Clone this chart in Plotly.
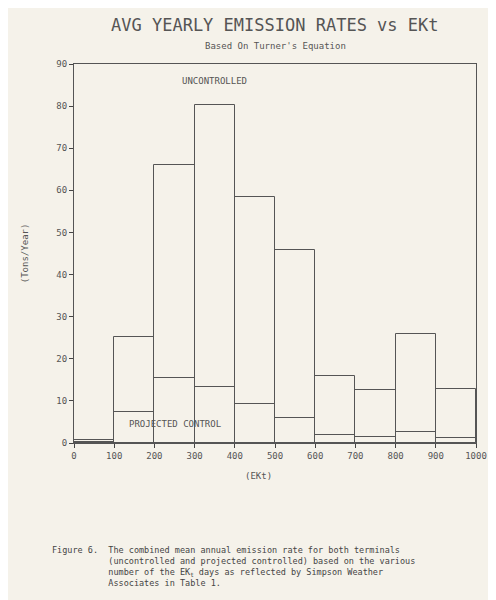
import plotly.graph_objects as go

# Data
ekt_mid = [50, 150, 250, 350, 450, 550, 650, 750, 850, 950]
uncontrolled = [0.7, 25.2, 65.9, 80.3, 58.5, 45.8, 16.0, 12.5, 25.8, 12.8]
projected = [0.3, 7.3, 15.4, 13.4, 9.3, 5.9, 1.9, 1.4, 2.6, 1.2]
x_ticks = list(range(0, 1001, 100))
y_ticks = list(range(0, 91, 10))

ink = '#555555'
font = 'DejaVu Sans Mono'

fig = go.Figure()
for vals in (uncontrolled, projected):
    fig.add_trace(go.Bar(
        x=ekt_mid, y=vals, width=100,
        marker=dict(color='rgba(0,0,0,0)', line=dict(color=ink, width=1)),
        showlegend=False
    ))

fig.add_annotation(x=350, y=86, text='UNCONTROLLED', showarrow=False,
                   font=dict(size=9, color=ink, family=font))
fig.add_annotation(x=250, y=4.5, text='PROJECTED CONTROL', showarrow=False,
                   font=dict(size=9, color=ink, family=font))

fig.add_annotation(xref='paper', yref='paper', x=0.5, y=1.135, showarrow=False,
                   text='AVG YEARLY EMISSION RATES vs EKt',
                   font=dict(size=17, color=ink, family=font))
fig.add_annotation(xref='paper', yref='paper', x=0.5, y=1.065, showarrow=False,
                   text="Based On Turner's Equation",
                   font=dict(size=9, color=ink, family=font))
fig.add_annotation(xref='paper', yref='paper', x=-0.14, y=0.5, showarrow=False,
                   text='(Tons/Year)', textangle=-90,
                   font=dict(size=9, color=ink, family=font))
fig.add_annotation(xref='paper', yref='paper', x=0.46, y=-0.105, showarrow=False,
                   text='(EKt)', font=dict(size=9, color=ink, family=font))
pad = '&nbsp;' * 11
fig.add_annotation(xref='paper', yref='paper', x=-0.06, y=-0.265, showarrow=False,
                   xanchor='left', yanchor='top', align='left',
                   text=('Figure 6.&nbsp;&nbsp;The combined mean annual emission rate for both terminals<br>'
                         + pad + '(uncontrolled and projected controlled) based on the various<br>'
                         + pad + 'number of the EK<sub>t</sub> days as reflected by Simpson Weather<br>'
                         + pad + 'Associates in Table 1.'),
                   font=dict(size=8.5, color='#444444', family=font))

fig.update_layout(
    width=496, height=600,
    margin=dict(l=66, r=28, t=56, b=165),
    paper_bgcolor='#f5f2ea', plot_bgcolor='#f5f2ea',
    barmode='overlay', bargap=0,
    font=dict(family=font, size=9, color=ink),
    xaxis=dict(range=[0, 1000], tickvals=x_ticks, ticks='outside', ticklen=4,
               showgrid=False, zeroline=False, showline=True, linecolor=ink, mirror=True),
    yaxis=dict(range=[0, 90], tickvals=y_ticks, ticks='outside', ticklen=4,
               showgrid=False, zeroline=False, showline=True, linecolor=ink, mirror=True),
)

fig.write_html("out.html")
